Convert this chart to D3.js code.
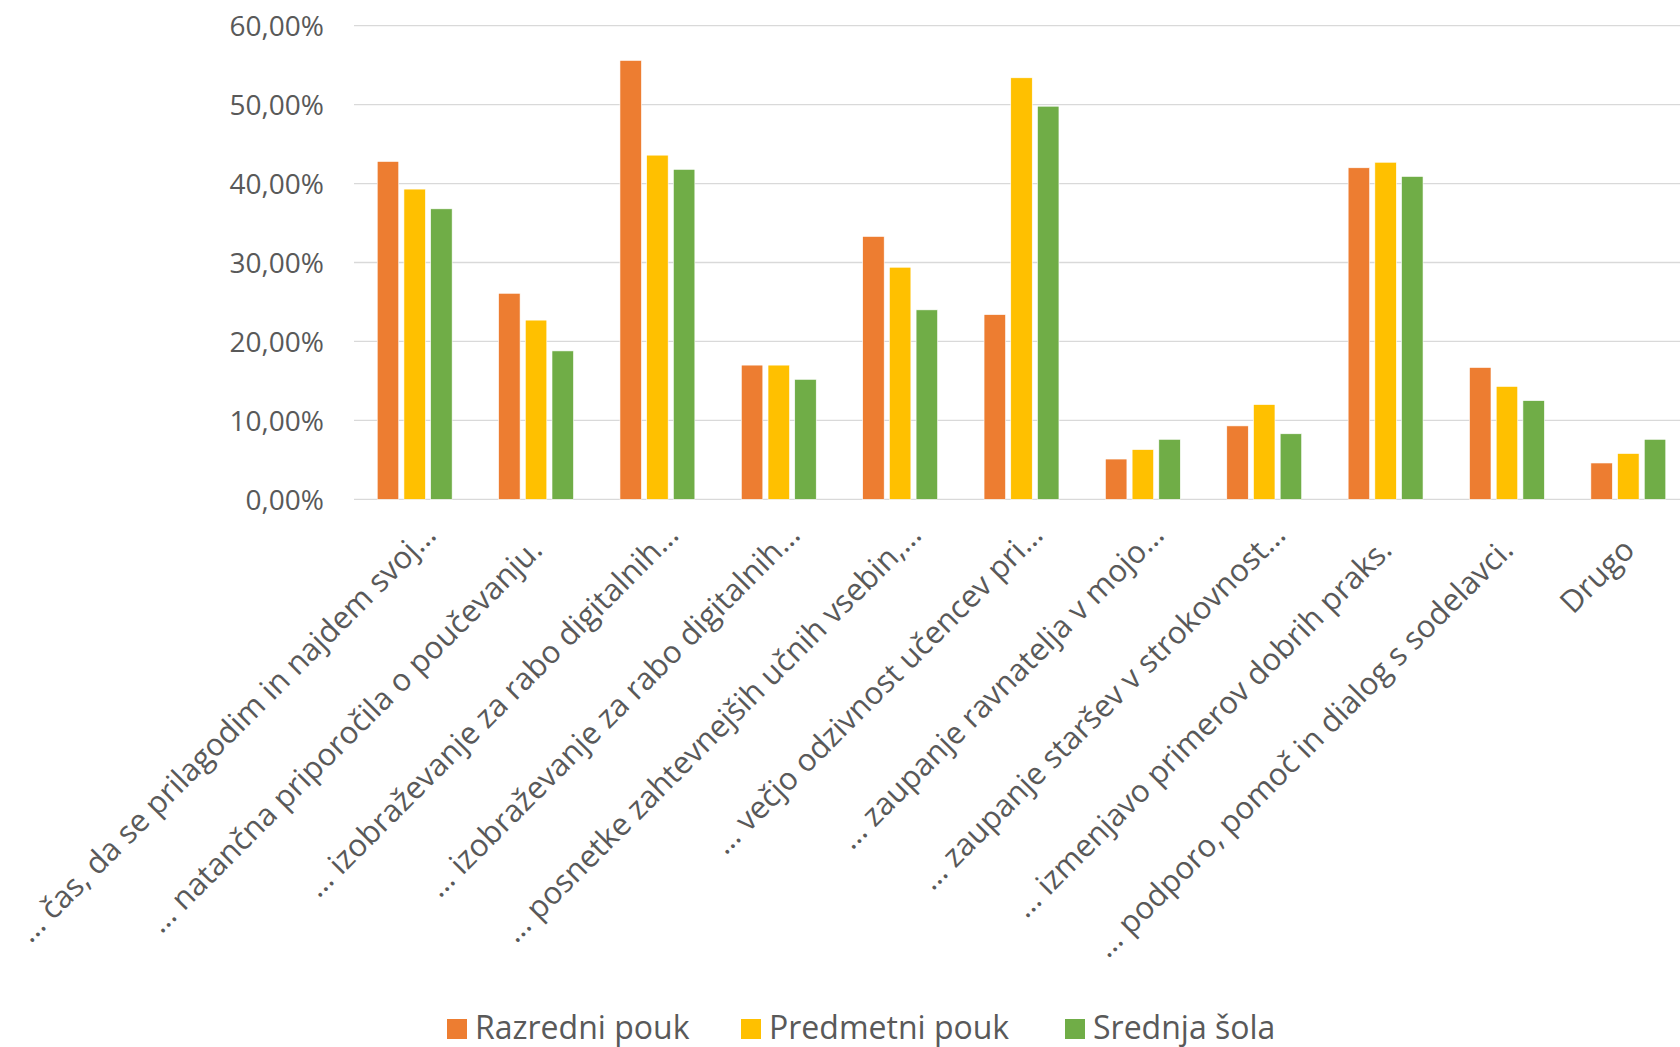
<!DOCTYPE html>
<html><head><meta charset="utf-8">
<script src="https://cdn.jsdelivr.net/npm/d3@7"></script>
<style>html,body{margin:0;padding:0;background:#fff;}svg{display:block;}</style>
</head><body>
<svg id="chart" width="1680" height="1047"></svg>
<script>
const categories = [
  "… čas, da se prilagodim in najdem svoj…",
  "… natančna priporočila o poučevanju.",
  "… izobraževanje za rabo digitalnih…",
  "… izobraževanje za rabo digitalnih…",
  "… posnetke zahtevnejših učnih vsebin,…",
  "… večjo odzivnost učencev pri…",
  "… zaupanje ravnatelja v mojo…",
  "… zaupanje staršev v strokovnost…",
  "… izmenjavo primerov dobrih praks.",
  "… podporo, pomoč in dialog s sodelavci.",
  "Drugo"
];
const seriesNames = ["Razredni pouk", "Predmetni pouk", "Srednja šola"];
const razredniPouk  = [42.8, 26.1, 55.6, 17.0, 33.3, 23.4, 5.1, 9.3, 42.0, 16.7, 4.6];
const predmetniPouk = [39.3, 22.7, 43.6, 17.0, 29.4, 53.4, 6.3, 12.0, 42.7, 14.3, 5.8];
const srednjaSola   = [36.8, 18.8, 41.8, 15.2, 24.0, 49.8, 7.6, 8.3, 40.9, 12.5, 7.6];
const yTicks = [0, 10, 20, 30, 40, 50, 60];
const colors = ["#ED7D31", "#FFC000", "#70AD47"];

const values = [razredniPouk, predmetniPouk, srednjaSola];
const FONT = "'Open Sans', sans-serif";
const TXT = "#595959";

const svg = d3.select("#chart");
const plot = {left: 354, right: 1689, top: 25.7, bottom: 499.3};

const x = d3.scaleBand().domain(d3.range(categories.length)).range([plot.left, plot.right]).padding(0);
const xInner = d3.scaleBand().domain(d3.range(seriesNames.length)).range([0, x.bandwidth()])
  .paddingInner(0.195).paddingOuter(0.87);
const y = d3.scaleLinear().domain([0, 60]).range([plot.bottom, plot.top]);

// gridlines
svg.append("g").selectAll("line").data(yTicks).join("line")
  .attr("x1", plot.left).attr("x2", plot.right)
  .attr("y1", d => y(d)).attr("y2", d => y(d))
  .attr("stroke", "#D9D9D9").attr("stroke-width", 1.3);

// y axis labels
const fmt = d => d.toFixed(2).replace(".", ",") + "%";
const yAxis = d3.axisLeft(y).tickValues(yTicks).tickFormat(fmt).tickSize(0).tickPadding(0);
const ya = svg.append("g").attr("transform", "translate(324,0)").call(yAxis);
ya.select(".domain").remove();
ya.selectAll("text").attr("font-family", FONT).attr("font-size", 28).attr("fill", TXT).attr("dy", "0.35em");

// bars
const groups = svg.append("g").selectAll("g").data(categories.map((c, i) => i)).join("g")
  .attr("transform", i => `translate(${x(i)},0)`);
groups.selectAll("rect").data(i => values.map((s, k) => ({k, v: s[i]}))).join("rect")
  .attr("x", d => xInner(d.k)).attr("width", xInner.bandwidth())
  .attr("y", d => y(d.v)).attr("height", d => y(0) - y(d.v))
  .attr("fill", d => colors[d.k]).attr("stroke", "#fff").attr("stroke-width", 0.6);

// x labels
const LABEL_SIZE = 31;
const probe = svg.append("text").attr("font-family", FONT).attr("font-size", LABEL_SIZE).text("…");
const ellW = probe.node().getComputedTextLength();
probe.remove();
const xa = svg.append("g").attr("transform", `translate(0,${plot.bottom})`)
  .call(d3.axisBottom(x).tickFormat(i => categories[i]).tickSize(0).tickPadding(0));
xa.select(".domain").remove();
xa.selectAll("text")
  .attr("font-family", FONT).attr("font-size", LABEL_SIZE).attr("fill", TXT)
  .attr("text-anchor", "end").attr("dy", 0).attr("y", 0)
  .attr("transform", i => {
    const off = categories[i].endsWith("…") ? ellW * 0.88 : 0;
    return `translate(${8 + off * 0.7071},${52.5 - off * 0.7071}) rotate(-45)`;
  });

// legend
const legendX = [447, 741, 1065];
const lg = svg.append("g").selectAll("g").data(seriesNames).join("g")
  .attr("transform", (d, i) => `translate(${legendX[i]},1019)`);
lg.append("rect").attr("width", 20).attr("height", 20).attr("fill", (d, i) => colors[i]);
lg.append("text").attr("x", 28).attr("y", 20).text(d => d)
  .attr("font-family", FONT).attr("font-size", 32).attr("fill", TXT);
</script>
</body></html>
